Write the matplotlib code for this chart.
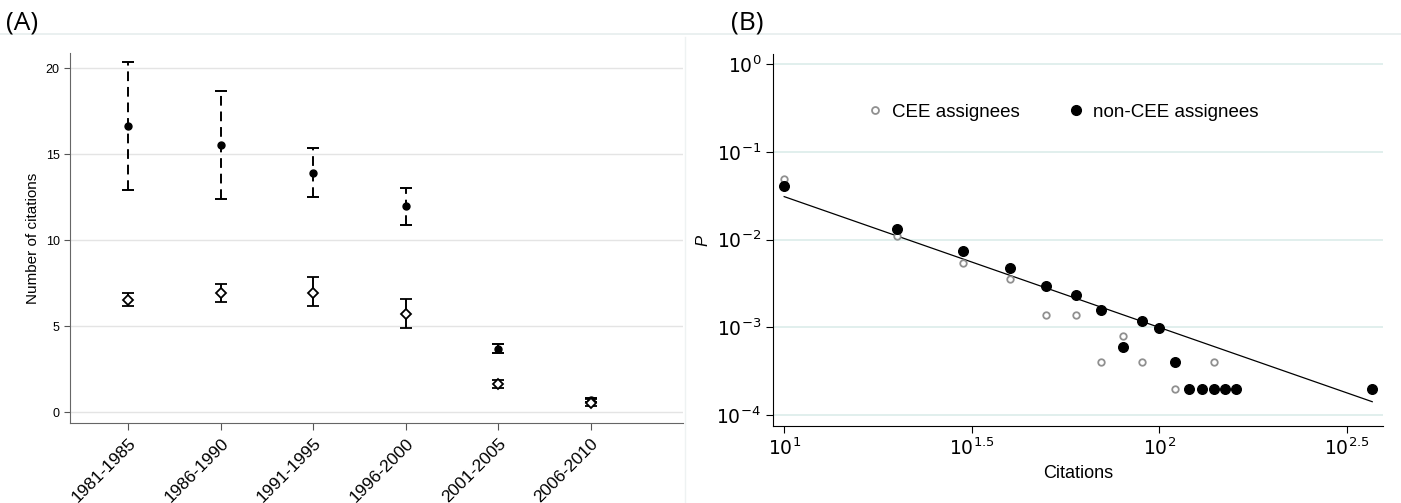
import numpy as np
import matplotlib
matplotlib.use('Agg')
import matplotlib.pyplot as plt
from matplotlib.lines import Line2D

plt.rcParams['font.family'] = ['Liberation Sans', 'DejaVu Sans']

# Panel A: mean citations per period with confidence intervals
periods = ['1981-1985', '1986-1990', '1991-1995', '1996-2000', '2001-2005', '2006-2010']
noncee_mean = [16.62, 15.54, 13.93, 11.97, 3.70, 0.72]
noncee_low = [12.94, 12.43, 12.53, 10.92, 3.47, 0.62]
noncee_high = [20.35, 18.68, 15.34, 13.07, 4.00, 0.82]
cee_mean = [6.54, 6.93, 6.96, 5.74, 1.65, 0.56]
cee_low = [6.19, 6.40, 6.17, 4.93, 1.42, 0.39]
cee_high = [6.96, 7.49, 7.86, 6.58, 1.88, 0.76]

# Panel B: citation distribution (log-log)
cee_cit = [10, 20, 30, 40, 50, 60, 70, 80, 90, 110, 140]
cee_p = [0.049, 0.0111, 0.00547, 0.00353, 0.00138, 0.00138, 0.0004, 0.0008, 0.0004, 0.0002, 0.0004]
noncee_cit = [10, 20, 30, 40, 50, 60, 70, 80, 90, 100, 110, 120, 130, 140, 150, 160, 370]
noncee_p = [0.0405, 0.0131, 0.0075, 0.00472, 0.00297, 0.00236, 0.0016, 0.000605, 0.00119,
            0.000987, 0.0004, 0.0002, 0.0002, 0.0002, 0.0002, 0.0002, 0.0002]
fit_coef = 0.953
fit_exponent = -1.489

fig = plt.figure(figsize=(14.01, 5.03), dpi=100)

# --- panel A ---
ax1 = fig.add_axes([0.05, 0.159, 0.4375, 0.736])
x = np.arange(len(periods))
nm = np.array(noncee_mean)
cm = np.array(cee_mean)
err_n = [nm - np.array(noncee_low), np.array(noncee_high) - nm]
err_c = [cm - np.array(cee_low), np.array(cee_high) - cm]

eb = ax1.errorbar(x, nm, yerr=err_n, fmt='o', color='black', ms=5, capsize=4,
                  elinewidth=1.4, capthick=1.4, zorder=3)
eb[2][0].set_linestyle((0, (5, 3)))
ax1.errorbar(x, cm, yerr=err_c, fmt='D', color='black', mfc='white', ms=5.5, mew=1.3,
             capsize=4, elinewidth=1.4, capthick=1.4, zorder=3)

ax1.set_xlim(-0.63, 6.0)
ax1.set_ylim(-0.62, 20.9)
ax1.set_yticks([0, 5, 10, 15, 20])
ax1.set_xticks(x)
ax1.set_xticklabels(periods, rotation=45, ha='right', rotation_mode='anchor', fontsize=12.5)
ax1.tick_params(axis='y', labelsize=9, length=4, color='#555555')
ax1.tick_params(axis='x', length=5, color='#555555', pad=4)
ax1.yaxis.grid(True, color='#e4e4e4', lw=1)
ax1.set_axisbelow(True)
ax1.set_ylabel('Number of citations', fontsize=11)
for s in ['top', 'right']:
    ax1.spines[s].set_visible(False)
for s in ['left', 'bottom']:
    ax1.spines[s].set_color('#666666')

# --- panel B ---
ax2 = fig.add_axes([0.5517, 0.153, 0.4352, 0.739])
ax2.set_xscale('log')
ax2.set_yscale('log')
ax2.scatter(cee_cit, cee_p, s=22, facecolors='white', edgecolors='#909090', linewidths=1.3, zorder=3)
ax2.scatter(noncee_cit, noncee_p, s=48, color='black', zorder=4)
cx = np.array([min(noncee_cit), max(noncee_cit)], dtype=float)
ax2.plot(cx, fit_coef * cx ** fit_exponent, color='black', lw=0.9, zorder=2)

ax2.set_xlim(10 ** 0.970, 10 ** 2.596)
ax2.set_ylim(10 ** -4.122, 10 ** 0.11)
ax2.set_xticks([10, 10 ** 1.5, 100, 10 ** 2.5])
ax2.set_xticklabels([r'$10^{1}$', r'$10^{1.5}$', r'$10^{2}$', r'$10^{2.5}$'])
ax2.set_yticks([1e-4, 1e-3, 1e-2, 1e-1, 1])
ax2.set_yticklabels([r'$10^{-4}$', r'$10^{-3}$', r'$10^{-2}$', r'$10^{-1}$', r'$10^{0}$'])
ax2.minorticks_off()
ax2.tick_params(labelsize=13.5, length=5)
ax2.yaxis.grid(True, color='#dcecea', lw=1.2)
ax2.set_axisbelow(True)
ax2.set_xlabel('Citations', fontsize=13)
ax2.set_ylabel('P', fontsize=12, style='italic')
for s in ['top', 'right']:
    ax2.spines[s].set_visible(False)

handles = [Line2D([], [], ls='none', marker='o', ms=5, mfc='white', mec='#909090', mew=1.3),
           Line2D([], [], ls='none', marker='o', ms=7, color='black')]
ax2.legend(handles, ['CEE assignees', 'non-CEE assignees'], ncol=2, frameon=False,
           fontsize=13.5, loc='upper left', bbox_to_anchor=(0.125, 0.913),
           handletextpad=0.4, columnspacing=2.5, handlelength=1.0)

# panel labels and separators
fig.text(0.004, 0.955, '(A)', fontsize=19, va='center', family=['Open Sans', 'DejaVu Sans'])
fig.text(0.522, 0.955, '(B)', fontsize=19, va='center', family=['Open Sans', 'DejaVu Sans'])
fig.add_artist(Line2D([0, 1], [0.932, 0.932], color='#e6eeee', lw=1.2, transform=fig.transFigure))
fig.add_artist(Line2D([0.489, 0.489], [0.0, 0.927], color='#eef2f2', lw=1.0, transform=fig.transFigure))

fig.savefig('out.png', dpi=100)
